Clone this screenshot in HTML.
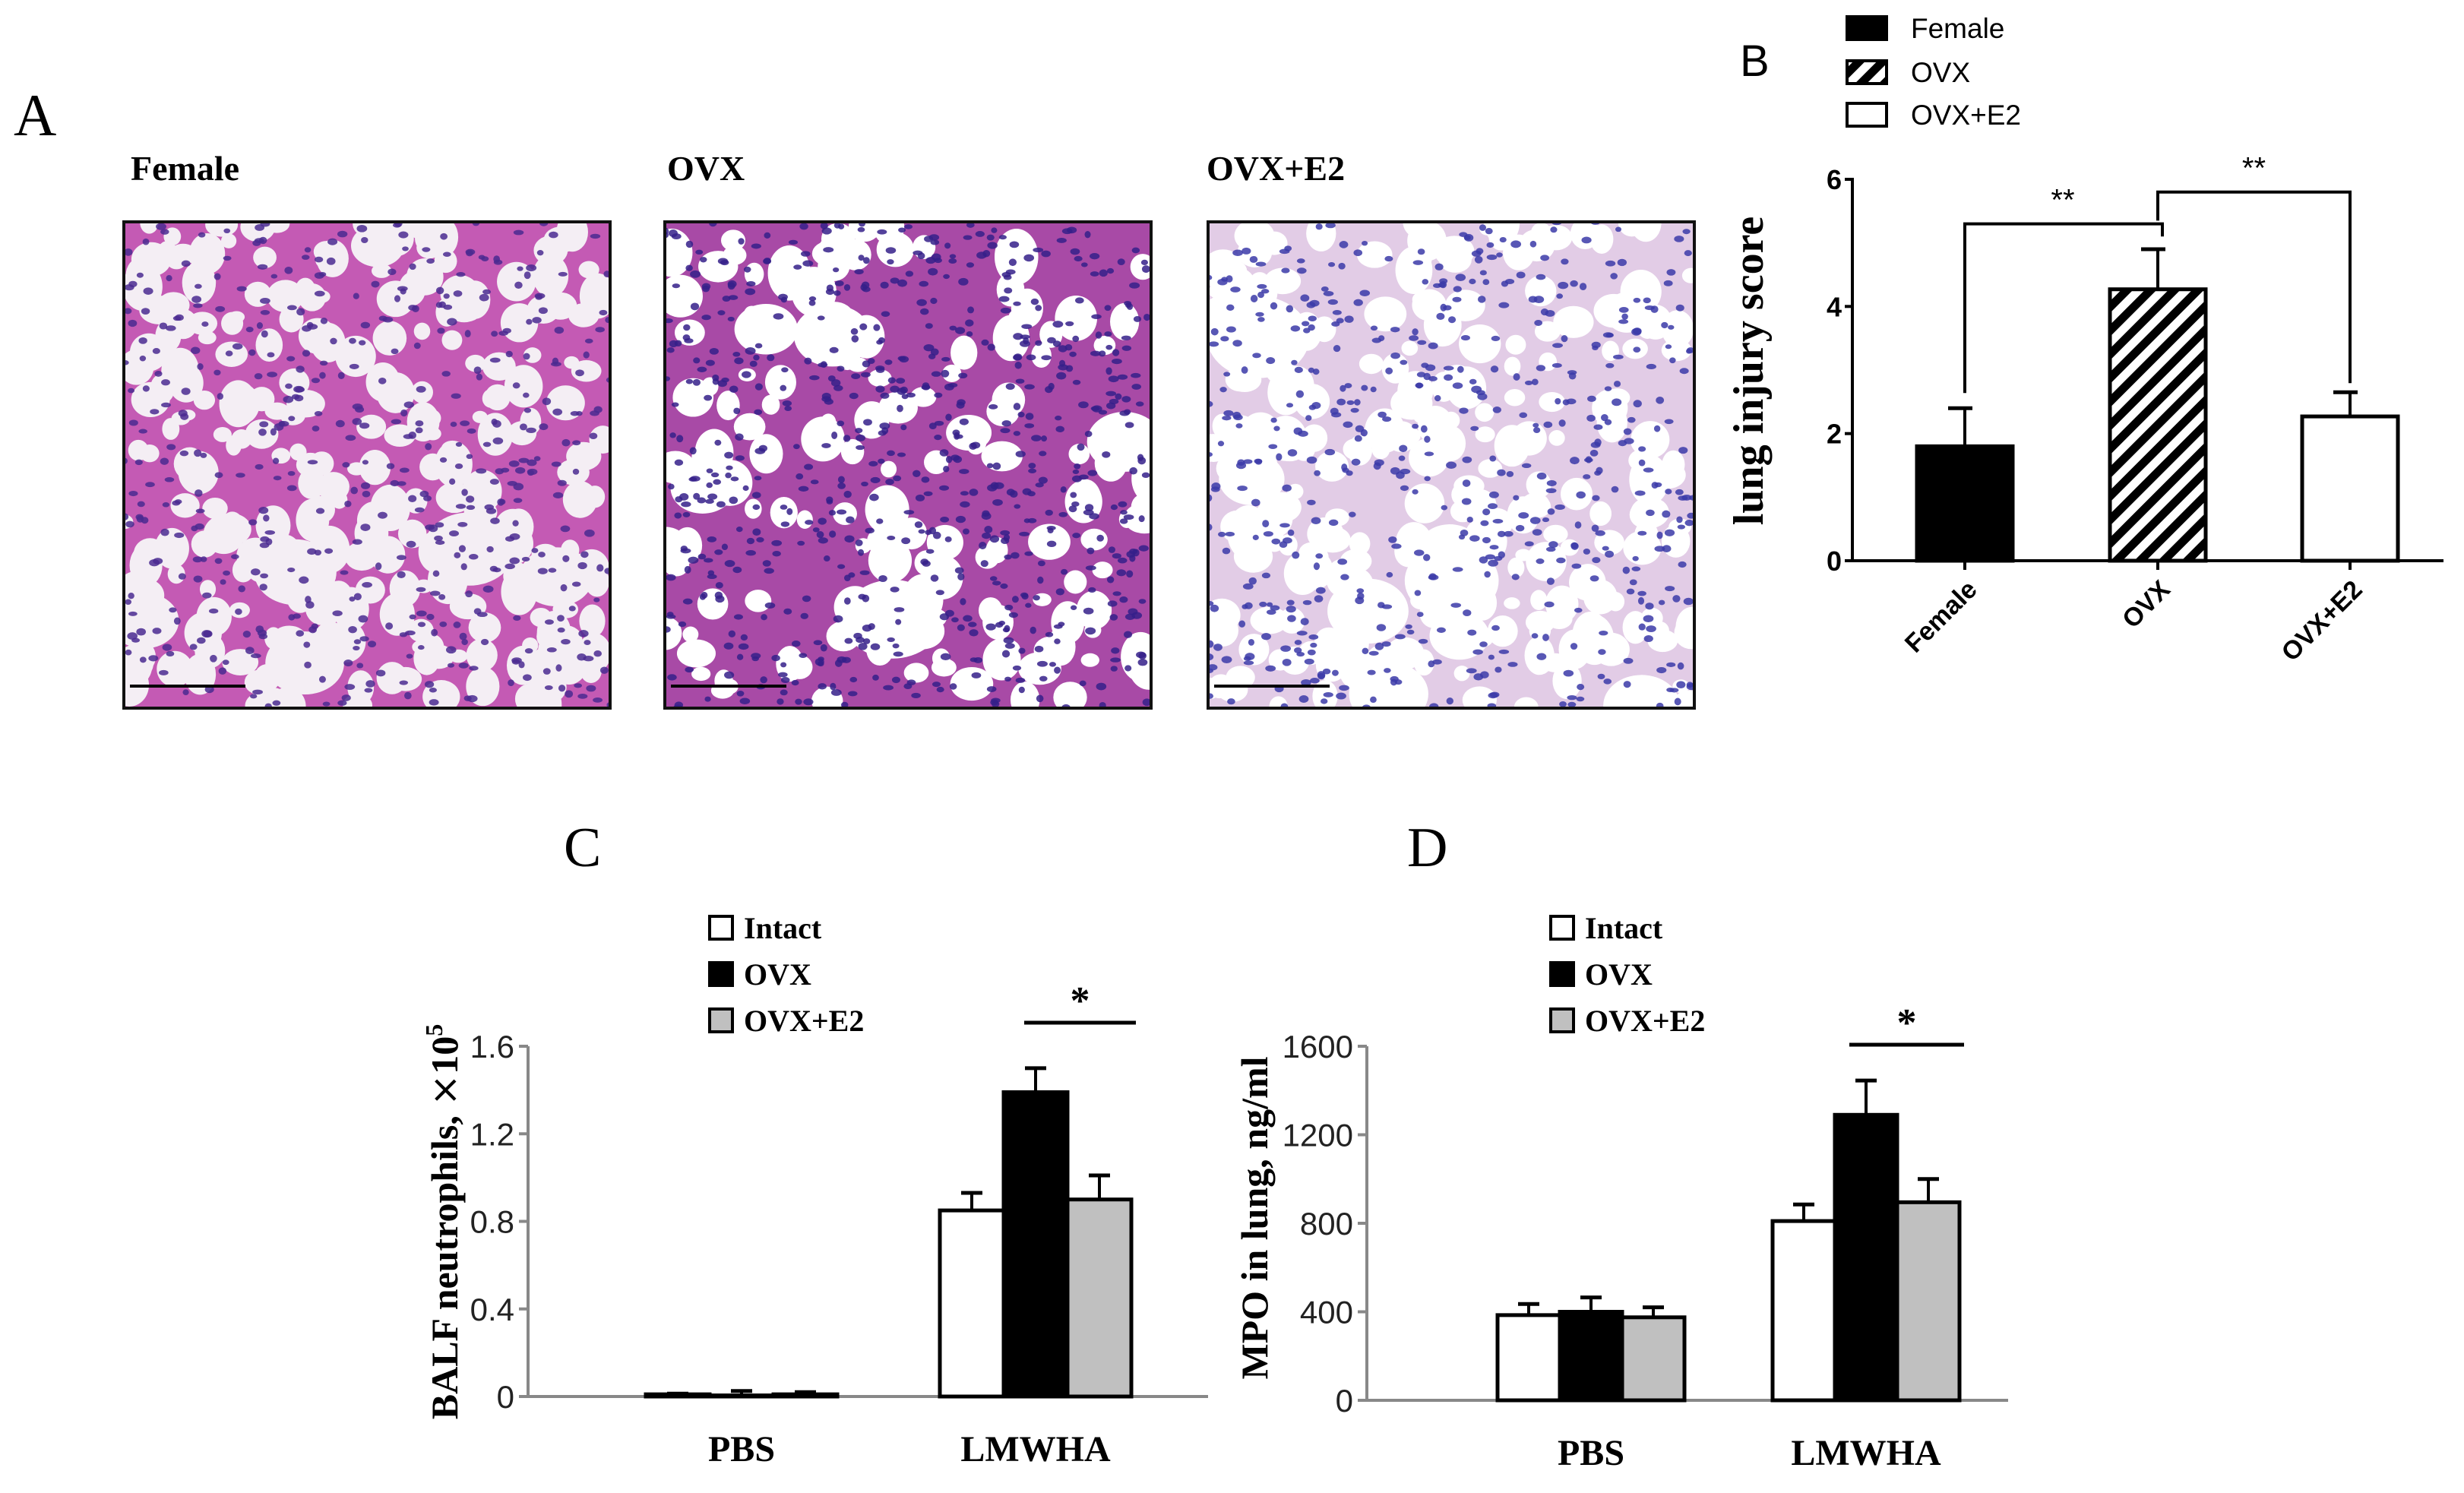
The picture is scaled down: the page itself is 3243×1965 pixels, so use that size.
<!DOCTYPE html>
<html><head><meta charset="utf-8"><style>
html,body{margin:0;padding:0;background:#fff}
svg{display:block}
.serif{font-family:"Liberation Serif",serif}
.sans{font-family:"Liberation Sans",sans-serif}
</style></head><body>
<svg id="fig" width="3243" height="1965" viewBox="0 0 3243 1965" xmlns="http://www.w3.org/2000/svg">
<rect width="3243" height="1965" fill="#fff"/>
<text x="18" y="178" class="serif" font-size="78">A</text>
<text x="172" y="237" class="serif" font-size="46" font-weight="bold">Female</text>
<text x="878" y="237" class="serif" font-size="46" font-weight="bold">OVX</text>
<text x="1588" y="237" class="serif" font-size="46" font-weight="bold">OVX+E2</text>
<g id="histo"></g>
<g id="panelB"></g>
<g id="panelC"></g>
<g id="panelD"></g>
</svg>
<script>
// ---------- Panel B data ----------
const bCategories = ["Female","OVX","OVX+E2"];
const bValues = [1.8, 4.27, 2.27];
const bErrors = [0.6, 0.63, 0.38];
const bTicks = [0,2,4,6];
// ---------- Panel C data ----------
const cGroups = ["PBS","LMWHA"];
const cSeries = ["Intact","OVX","OVX+E2"];
const cIntact = [0.01, 0.85];
const cOVX = [0.005, 1.39];
const cE2 = [0.01, 0.90];
const cIntactErr = [0.003, 0.08];
const cOVXErr = [0.02, 0.11];
const cE2Err = [0.01, 0.11];
const cTicks = ["0","0.4","0.8","1.2","1.6"];
// ---------- Panel D data ----------
const dGroups = ["PBS","LMWHA"];
const dIntact = [385, 810];
const dOVX = [400, 1290];
const dE2 = [375, 895];
const dIntactErr = [50, 75];
const dOVXErr = [65, 155];
const dE2Err = [45, 105];
const dTicks = ["0","400","800","1200","1600"];

const NS="http://www.w3.org/2000/svg";
function mk(parent,tag,attrs,text){const e=document.createElementNS(NS,tag);for(const k in attrs)e.setAttribute(k,attrs[k]);if(text!==undefined)e.textContent=text;parent.appendChild(e);return e;}

// ---------- Histology textures ----------
(function(){
  const g=document.getElementById('histo');
  const boxes=[
    {x:163,bg:"#c45ab4",nuc:"#4a2a90",hole:"#f4eef4",n:260,rmin:10,rvar:17,big:6,dens:500},
    {x:875,bg:"#a84aa6",nuc:"#35208a",hole:"#ffffff",n:140,rmin:10,rvar:20,big:5,dens:700},
    {x:1590,bg:"#e2cce6",nuc:"#3b3aa8",hole:"#ffffff",n:240,rmin:10,rvar:18,big:8,dens:550}];
  let seed=7;function rnd(){seed=(seed*16807)%2147483647;return seed/2147483647;}
  boxes.forEach((b,i)=>{
    const grp=mk(g,'g',{});
    
    
    const cp=mk(grp,'clipPath',{id:'cp'+i});mk(cp,'rect',{x:b.x,y:292,width:640,height:640});
    const inner=mk(grp,'g',{'clip-path':'url(#cp'+i+')'});
    mk(inner,'rect',{x:b.x,y:292,width:640,height:640,fill:b.bg});
    for(let k=0;k<b.n;k++){const r=b.rmin+rnd()*b.rvar;mk(inner,'ellipse',{cx:b.x+rnd()*640,cy:292+rnd()*640,rx:r,ry:r*(0.7+rnd()*0.6),fill:b.hole});}
    for(let k=0;k<b.big;k++){const r=35+rnd()*40;mk(inner,'ellipse',{cx:b.x+rnd()*640,cy:292+rnd()*640,rx:r,ry:r*0.8,fill:b.hole});}
    for(let k=0;k<b.dens;k++){mk(inner,'ellipse',{cx:b.x+rnd()*640,cy:292+rnd()*640,rx:4+rnd()*3,ry:3+rnd()*2,fill:b.nuc,opacity:0.85});}
    mk(inner,'line',{x1:b.x+8,y1:903,x2:b.x+160,y2:903,stroke:"#000","stroke-width":4});
    mk(grp,'rect',{x:b.x,y:292,width:640,height:640,fill:"none",stroke:"#111","stroke-width":4});
  });
})();

// ---------- Panel B ----------
(function(){
  const g=document.getElementById('panelB');
  const x0=2438,xEnd=3216,y0=738,y6=236;
  const y=v=>y0-(y0-y6)*v/6;
  const barX=[2523,2777,3030],bw=126;
  let t=mk(g,'text',{x:2290,y:100,class:'sans','font-size':58});t.textContent='B';
  
  
  const legY=[37,95,151];
  const defs=mk(g,'defs',{});
  const p=mk(defs,'pattern',{id:'hatch',patternUnits:'userSpaceOnUse',width:22,height:22,patternTransform:'rotate(45)'});
  mk(p,'rect',{width:22,height:22,fill:'#fff'});mk(p,'rect',{width:11,height:22,fill:'#000'});
  bCategories.forEach((c,i)=>{
    const lg=mk(g,'g',{});
    
    
    mk(lg,'rect',{x:2431,y:legY[i]-15,width:52,height:30,fill:i==0?"#000":i==1?"url(#hatch)":"#fff",stroke:"#000","stroke-width":4});
    mk(lg,'text',{x:2515,y:legY[i]+13,class:'sans','font-size':37},c);
  });
  mk(g,'line',{x1:x0,y1:y6-2,x2:x0,y2:y0+2,stroke:'#000','stroke-width':4});
  mk(g,'line',{x1:x0-10,y1:y0,x2:xEnd,y2:y0,stroke:'#000','stroke-width':4});
  bTicks.forEach(v=>{
    mk(g,'line',{x1:x0-10,y1:y(v),x2:x0,y2:y(v),stroke:'#000','stroke-width':4});
    const tt=mk(g,'text',{x:x0-14,y:y(v)+13,'text-anchor':'end',class:'sans','font-size':36,'font-weight':'bold'},String(v));
    
    
  });
  bValues.forEach((v,i)=>{
    const cx=barX[i]+bw/2;
    const r=mk(g,'rect',{x:barX[i],y:y(v),width:bw,height:y0-y(v),fill:i==0?"#000":i==1?"url(#hatch)":"#fff",stroke:'#000','stroke-width':5});
    
    
    mk(g,'line',{x1:cx,y1:y(v),x2:cx,y2:y(v+bErrors[i]),stroke:'#000','stroke-width':4});
    mk(g,'line',{x1:cx-22,y1:y(v+bErrors[i]),x2:cx+10,y2:y(v+bErrors[i]),stroke:'#000','stroke-width':5});
    mk(g,'line',{x1:cx,y1:y0,x2:cx,y2:y0+12,stroke:'#000','stroke-width':4});
    const lt=mk(g,'text',{x:cx+18,y:y0+40,'text-anchor':'end',class:'sans','font-size':34,'font-weight':'bold',transform:`rotate(-45 ${cx+18} ${y0+40})`},bCategories[i]);
    
    
  });
  const c0=barX[0]+bw/2,c1=barX[1]+bw/2,c2=barX[2]+bw/2;
  mk(g,'polyline',{points:`${c0},${y(bValues[0]+bErrors[0])-20} ${c0},${y(5.3)} ${c1+6},${y(5.3)} ${c1+6},${y(5.1)}`,fill:'none',stroke:'#000','stroke-width':4});
  mk(g,'polyline',{points:`${c1},${y(5.35)} ${c1},${y(5.8)} ${c2},${y(5.8)} ${c2},${y(bValues[2]+bErrors[2])-12}`,fill:'none',stroke:'#000','stroke-width':4});
  mk(g,'text',{x:(c0+c1)/2+2,y:y(5.3)-18,'text-anchor':'middle',class:'sans','font-size':40},'**');
  mk(g,'text',{x:(c1+c2)/2,y:y(5.8)-18,'text-anchor':'middle',class:'sans','font-size':40},'**');
  const yt=mk(g,'text',{x:2320,y:488,'text-anchor':'middle',class:'serif','font-size':56,'font-weight':'bold',transform:'rotate(-90 2320 488)'},'lung injury score');
  
  
})();

// ---------- Panels C & D ----------
function grouped(gid,o){
  const g=document.getElementById(gid);
  const y=v=>o.y0-(o.y0-o.yTop)*v/o.max;
  let t=mk(g,'text',{x:o.lblX,y:1140,class:'serif','font-size':74},o.label);
  
  
  const fills=["#fff","#000","#c0c0c0"];
  const legY=[1221,1282,1343];
  cSeries.forEach((s,i)=>{
    const lg=mk(g,'g',{});
    
    
    mk(lg,'rect',{x:o.legX,y:legY[i]-15,width:30,height:30,fill:fills[i],stroke:'#000','stroke-width':4});
    mk(lg,'text',{x:o.legX+45,y:legY[i]+14,class:'serif','font-size':40,'font-weight':'bold'},s);
  });
  mk(g,'line',{x1:o.x0,y1:o.yTop,x2:o.x0,y2:o.y0,stroke:'#888','stroke-width':4});
  mk(g,'line',{x1:o.x0,y1:o.y0,x2:o.xEnd,y2:o.y0,stroke:'#888','stroke-width':4});
  o.ticks.forEach(lab=>{
    const v=parseFloat(lab);
    mk(g,'line',{x1:o.x0-12,y1:y(v),x2:o.x0,y2:y(v),stroke:'#888','stroke-width':4});
    const tt=mk(g,'text',{x:o.x0-18,y:y(v)+15,'text-anchor':'end',class:'sans','font-size':42,fill:'#222'},lab);
    
    
  });
  const series=[o.a,o.b,o.c],errs=[o.ae,o.be,o.ce];
  o.groups.forEach((grp,gi)=>{
    series.forEach((sv,si)=>{
      const x=o.barX[gi]+si*o.bw, v=sv[gi], e=errs[si][gi], cx=x+o.bw/2;
      mk(g,'line',{x1:cx,y1:y(v),x2:cx,y2:y(v+e),stroke:'#000','stroke-width':4});
      mk(g,'line',{x1:cx-14,y1:y(v+e),x2:cx+14,y2:y(v+e),stroke:'#000','stroke-width':5});
      const r=mk(g,'rect',{x:x,y:y(v),width:o.bw,height:Math.max(o.y0-y(v),1),fill:fills[si],stroke:'#000','stroke-width':5});
      
      
    });
    const lt=mk(g,'text',{x:o.barX[gi]+1.5*o.bw,y:o.y0+85,'text-anchor':'middle',class:'serif','font-size':48,'font-weight':'bold'},grp);
    
    
  });
  mk(g,'line',{x1:o.sigX1,y1:o.sigY,x2:o.sigX2,y2:o.sigY,stroke:'#000','stroke-width':5});
  mk(g,'text',{x:(o.sigX1+o.sigX2)/2,y:o.sigY-12,'text-anchor':'middle',class:'serif','font-size':52,'font-weight':'bold'},'*');
  const yt=mk(g,'text',{x:o.titleX,y:o.titleY,'text-anchor':'middle',class:'serif','font-size':50,'font-weight':'bold',transform:`rotate(-90 ${o.titleX} ${o.titleY})`});
  
  
  yt.innerHTML=o.title;
}
grouped('panelC',{label:'C',lblX:742,legX:934,x0:695,xEnd:1590,y0:1838,yTop:1377,max:1.6,ticks:cTicks,groups:cGroups,
  a:cIntact,b:cOVX,c:cE2,ae:cIntactErr,be:cOVXErr,ce:cE2Err,barX:[850,1237],bw:84,sigX1:1348,sigX2:1495,sigY:1346,
  titleX:602,titleY:1608,title:'BALF neutrophils, <tspan font-weight="normal" font-family="DejaVu Sans">×</tspan>10<tspan font-size="32" dy="-20">5</tspan>'});
grouped('panelD',{label:'D',lblX:1852,legX:2041,x0:1799,xEnd:2643,y0:1843,yTop:1377,max:1600,ticks:dTicks,groups:dGroups,
  a:dIntact,b:dOVX,c:dE2,ae:dIntactErr,be:dOVXErr,ce:dE2Err,barX:[1971,2333],bw:82,sigX1:2434,sigX2:2585,sigY:1375,
  titleX:1668,titleY:1603,title:'MPO in lung, ng/ml'});
</script>
</body></html>
